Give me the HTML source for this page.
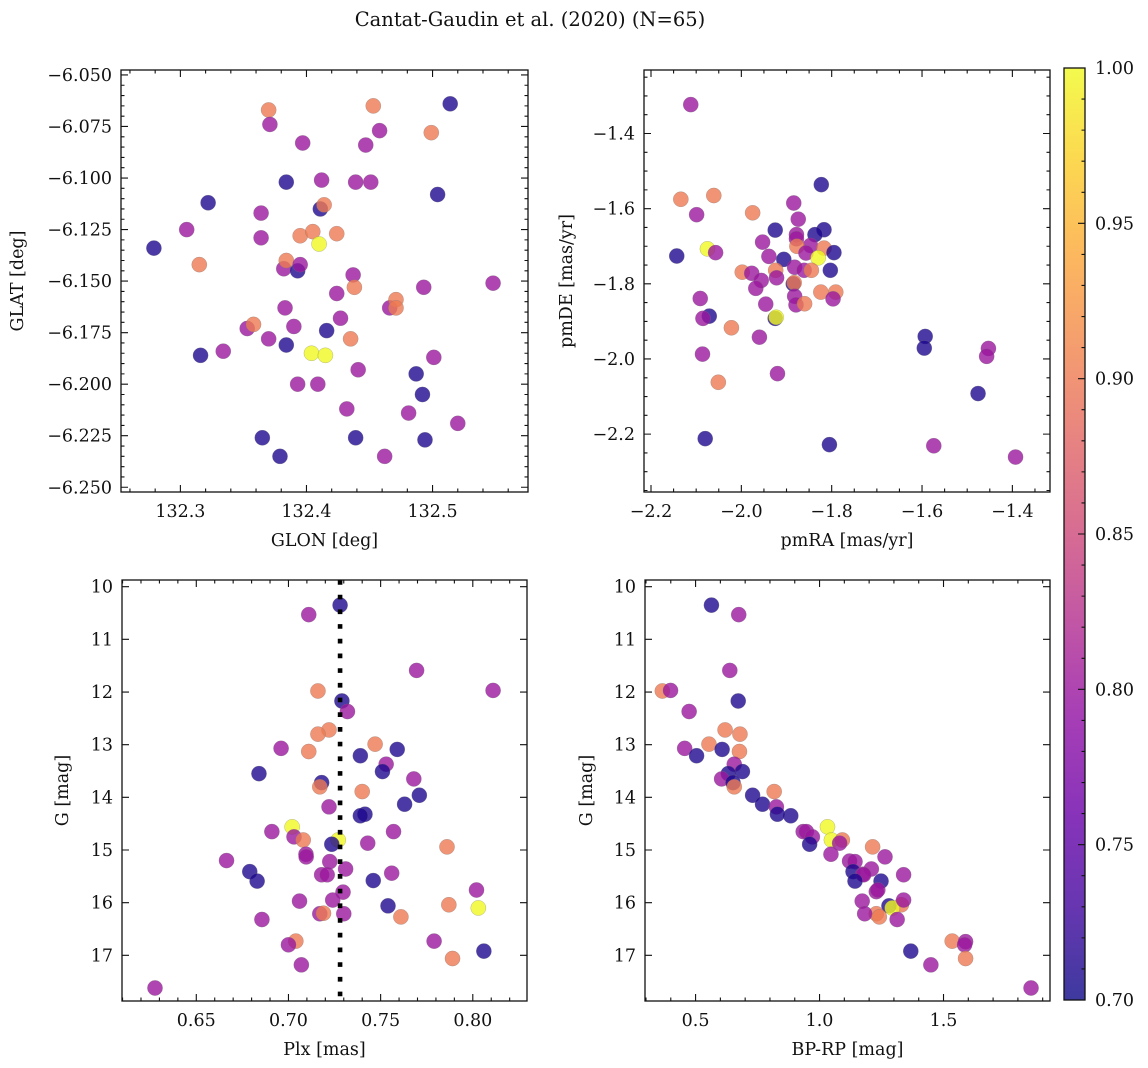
<!DOCTYPE html>
<html><head><meta charset="utf-8">
<style>
html,body{margin:0;padding:0;background:#fff;}
svg{display:block;font-family:"DejaVu Serif","Liberation Serif",serif;}
</style></head>
<body>
<svg id="fig" width="1148" height="1068" viewBox="0 0 1148 1068" xmlns="http://www.w3.org/2000/svg">
<rect x="0" y="0" width="1148" height="1068" fill="#fff"/>
<text x="530" y="26" font-size="19.5" text-anchor="middle" fill="#111">Cantat-Gaudin et al. (2020) (N=65)</text>
</svg>
<script>
// ---- Panel 1: GLON vs GLAT ----
const p1Lon=[132.279,132.322,132.305,132.315,132.316,132.334,132.353,132.358,132.364,132.364,132.365,132.370,132.371,132.370,132.379,132.382,132.383,132.384,132.384,132.384,132.390,132.393,132.393,132.395,132.395,132.397,132.405,132.404,132.409,132.410,132.411,132.412,132.414,132.415,132.416,132.424,132.424,132.427,132.432,132.435,132.437,132.438,132.439,132.439,132.441,132.447,132.451,132.453,132.458,132.462,132.466,132.471,132.471,132.481,132.487,132.492,132.494,132.493,132.499,132.501,132.504,132.514,132.520,132.548];
const p1Lat=[-6.134,-6.112,-6.125,-6.142,-6.186,-6.184,-6.173,-6.171,-6.117,-6.129,-6.226,-6.067,-6.074,-6.178,-6.235,-6.144,-6.163,-6.102,-6.181,-6.140,-6.172,-6.200,-6.145,-6.128,-6.142,-6.083,-6.126,-6.185,-6.200,-6.132,-6.115,-6.101,-6.113,-6.186,-6.174,-6.127,-6.156,-6.168,-6.212,-6.178,-6.147,-6.153,-6.226,-6.102,-6.193,-6.084,-6.102,-6.065,-6.077,-6.235,-6.163,-6.159,-6.163,-6.214,-6.195,-6.205,-6.227,-6.153,-6.078,-6.187,-6.108,-6.064,-6.219,-6.151];
const p1Col=[0.71,0.71,0.80,0.90,0.71,0.80,0.80,0.90,0.80,0.80,0.71,0.90,0.80,0.80,0.71,0.80,0.80,0.71,0.71,0.90,0.80,0.80,0.71,0.90,0.80,0.80,0.90,1.00,0.80,1.00,0.71,0.80,0.90,1.00,0.71,0.90,0.80,0.80,0.80,0.90,0.80,0.90,0.71,0.80,0.80,0.80,0.80,0.90,0.80,0.80,0.80,0.90,0.90,0.80,0.71,0.71,0.71,0.80,0.90,0.80,0.71,0.71,0.80,0.80];
const p1XTicks=[132.3,132.4,132.5];
const p1YTicks=[-6.050,-6.075,-6.100,-6.125,-6.150,-6.175,-6.200,-6.225,-6.250];

// ---- Panel 2: pmRA vs pmDE ----
const p2RA=[-2.112,-2.134,-2.061,-2.099,-1.975,-1.823,-1.884,-1.874,-2.143,-2.075,-2.057,-1.925,-1.817,-1.837,-1.878,-1.878,-1.953,-1.847,-1.877,-1.817,-1.857,-1.795,-1.830,-1.939,-1.906,-1.882,-1.861,-1.845,-1.803,-1.924,-1.998,-1.977,-1.956,-1.922,-1.885,-1.883,-1.968,-1.882,-1.824,-1.791,-1.797,-1.879,-1.860,-1.946,-2.091,-2.071,-2.085,-1.925,-1.923,-2.022,-1.960,-2.086,-2.051,-1.920,-1.593,-1.595,-1.453,-1.457,-1.476,-2.080,-1.805,-1.574,-1.393];
const p2DE=[-1.323,-1.575,-1.565,-1.616,-1.611,-1.536,-1.585,-1.628,-1.726,-1.707,-1.717,-1.657,-1.656,-1.669,-1.669,-1.680,-1.689,-1.698,-1.700,-1.705,-1.718,-1.717,-1.731,-1.727,-1.735,-1.756,-1.764,-1.764,-1.764,-1.764,-1.769,-1.772,-1.791,-1.784,-1.800,-1.797,-1.812,-1.833,-1.822,-1.822,-1.840,-1.856,-1.853,-1.854,-1.839,-1.886,-1.892,-1.892,-1.889,-1.917,-1.942,-1.987,-2.062,-2.039,-1.940,-1.971,-1.972,-1.993,-2.092,-2.212,-2.228,-2.231,-2.261];
const p2Col=[0.80,0.90,0.90,0.80,0.90,0.71,0.80,0.80,0.71,1.00,0.80,0.71,0.71,0.71,0.80,0.80,0.80,0.80,0.90,0.90,0.80,0.71,1.00,0.80,0.71,0.80,0.80,0.90,0.71,0.90,0.90,0.80,0.80,0.80,0.71,0.90,0.80,0.80,0.90,0.90,0.80,0.80,0.90,0.80,0.80,0.71,0.80,0.71,1.00,0.90,0.80,0.80,0.90,0.80,0.71,0.71,0.80,0.80,0.71,0.71,0.71,0.80,0.80];
const p2XTicks=[-2.2,-2.0,-1.8,-1.6,-1.4];
const p2YTicks=[-1.4,-1.6,-1.8,-2.0,-2.2];

// ---- Panel 3: Plx vs G ----
const p3Plx=[0.728,0.711,0.7695,0.811,0.716,0.729,0.732,0.722,0.716,0.747,0.696,0.759,0.711,0.739,0.753,0.751,0.684,0.768,0.718,0.717,0.740,0.771,0.763,0.722,0.7415,0.739,0.702,0.691,0.757,0.703,0.708,0.727,0.7235,0.743,0.786,0.7095,0.7096,0.6664,0.7224,0.731,0.679,0.718,0.721,0.756,0.683,0.746,0.7296,0.802,0.724,0.706,0.787,0.754,0.803,0.717,0.719,0.730,0.761,0.6856,0.704,0.700,0.779,0.806,0.789,0.707,0.6276];
const p3G=[10.35,10.53,11.59,11.97,11.98,12.17,12.37,12.72,12.80,12.99,13.07,13.09,13.13,13.21,13.37,13.51,13.55,13.65,13.72,13.80,13.89,13.96,14.13,14.18,14.32,14.35,14.56,14.65,14.65,14.75,14.81,14.81,14.89,14.87,14.94,15.08,15.13,15.20,15.22,15.36,15.41,15.47,15.47,15.44,15.59,15.58,15.80,15.76,15.95,15.97,16.04,16.06,16.10,16.21,16.20,16.21,16.27,16.32,16.73,16.80,16.73,16.92,17.06,17.18,17.62];
const p3Col=[0.71,0.80,0.80,0.80,0.90,0.71,0.80,0.90,0.90,0.90,0.80,0.71,0.90,0.71,0.80,0.71,0.71,0.80,0.71,0.90,0.90,0.71,0.71,0.80,0.71,0.71,1.00,0.80,0.80,0.80,0.90,1.00,0.71,0.80,0.90,0.80,0.80,0.80,0.80,0.80,0.71,0.80,0.80,0.80,0.71,0.71,0.80,0.80,0.80,0.80,0.90,0.71,1.00,0.80,0.90,0.80,0.90,0.80,0.90,0.80,0.80,0.71,0.90,0.80,0.80];
const p3XTicks=[0.65,0.70,0.75,0.80];
const p3YTicks=[10,11,12,13,14,15,16,17];
const p3Mean=[0.728];

// ---- Panel 4: BP-RP vs G ----
const p4BR=[0.564,0.674,0.638,0.366,0.399,0.672,0.474,0.619,0.679,0.554,0.456,0.607,0.677,0.504,0.656,0.689,0.632,0.605,0.651,0.656,0.817,0.730,0.770,0.826,0.884,0.830,1.032,0.934,0.947,0.971,1.048,1.092,0.960,1.081,1.214,1.046,1.121,1.143,1.209,1.135,1.175,1.178,1.264,1.339,1.143,1.248,1.229,1.235,1.172,1.330,1.280,1.293,1.229,1.182,1.339,1.241,1.313,1.535,1.589,1.585,1.368,1.589,1.449,1.853];
const p4G=[10.35,10.53,11.59,11.98,11.97,12.17,12.37,12.72,12.80,12.99,13.07,13.09,13.13,13.21,13.37,13.51,13.55,13.65,13.72,13.80,13.89,13.96,14.13,14.18,14.35,14.32,14.56,14.65,14.65,14.75,14.81,14.81,14.89,14.87,14.94,15.08,15.21,15.22,15.36,15.41,15.46,15.47,15.13,15.47,15.59,15.59,15.79,15.76,15.97,16.04,16.06,16.10,16.21,16.21,15.95,16.27,16.32,16.73,16.74,16.80,16.92,17.06,17.18,17.62];
const p4Col=[0.71,0.80,0.80,0.90,0.80,0.71,0.80,0.90,0.90,0.90,0.80,0.71,0.90,0.71,0.80,0.71,0.71,0.80,0.71,0.90,0.90,0.71,0.71,0.80,0.71,0.71,1.00,0.80,0.80,0.80,1.00,0.90,0.71,0.80,0.90,0.80,0.80,0.80,0.80,0.71,0.80,0.80,0.80,0.80,0.71,0.71,0.80,0.80,0.80,0.90,0.71,1.00,0.90,0.80,0.80,0.90,0.80,0.90,0.80,0.80,0.71,0.90,0.80,0.80];
const p4XTicks=[0.5,1.0,1.5];
const p4YTicks=[10,11,12,13,14,15,16,17];

// ---- Colorbar ----
const cbTicks=[0.70,0.75,0.80,0.85,0.90,0.95,1.00];

const NS="http://www.w3.org/2000/svg";
const svg=document.getElementById('fig');
const FS=17.5;
function mk(tag,attrs,parent){const e=document.createElementNS(NS,tag);for(const k in attrs)e.setAttribute(k,attrs[k]);(parent||svg).appendChild(e);return e;}
const stops=[[0,13,8,135],[0.1,65,4,157],[0.2,106,0,168],[0.3,143,13,164],[0.4,177,42,144],[0.5,204,71,120],[0.6,225,100,98],[0.7,242,132,75],[0.8,252,166,54],[0.9,252,206,37],[1,240,249,33]];
function plasma(t){t=Math.max(0,Math.min(1,t));for(let i=1;i<stops.length;i++){if(t<=stops[i][0]){const a=stops[i-1],b=stops[i],f=(t-a[0])/(b[0]-a[0]);return 'rgb('+[1,2,3].map(j=>Math.round(a[j]+(b[j]-a[j])*f)).join(',')+')';}}return 'rgb(240,249,33)';}
function cnorm(v){return (v-0.7)/0.3;}

function panel(cfg){
  const g=mk('g',{});
  
  
  const sx=v=>cfg.x0+(v-cfg.xmin)/(cfg.xmax-cfg.xmin)*(cfg.x1-cfg.x0);
  const sy=v=>cfg.y0+(v-cfg.ymax)/(cfg.ymin-cfg.ymax)*(cfg.y1-cfg.y0);
  const pg=mk('g',{},g);
  
  
  for(let i=0;i<Math.min(cfg.xs.length,cfg.ys.length);i++){
    const c=mk('circle',{cx:sx(cfg.xs[i]),cy:sy(cfg.ys[i]),r:7.6,fill:plasma(cnorm(cfg.cs[i])),'fill-opacity':0.8,stroke:'#777','stroke-opacity':0.5,'stroke-width':0.5},pg);
    
    
  }
  if(cfg.extra)cfg.extra(g,sx,sy);
  const fr=mk('rect',{x:cfg.x0,y:cfg.y0,width:cfg.x1-cfg.x0,height:cfg.y1-cfg.y0,fill:'none',stroke:'#111','stroke-width':1.3},g);
  
  
  let d='';
  for(let v=Math.ceil(cfg.xmin/cfg.xminor-1e-6)*cfg.xminor;v<=cfg.xmax+1e-9;v+=cfg.xminor){const x=sx(v);d+=`M${x},${cfg.y1}v-3.5M${x},${cfg.y0}v3.5`;}
  for(let v=Math.ceil(cfg.ymin/cfg.yminor-1e-6)*cfg.yminor;v<=cfg.ymax+1e-9;v+=cfg.yminor){const y=sy(v);d+=`M${cfg.x0},${y}h3.5M${cfg.x1},${y}h-3.5`;}
  for(const v of cfg.xt){const x=sx(v);d+=`M${x},${cfg.y1}v-7M${x},${cfg.y0}v7`;}
  for(const v of cfg.yt){const y=sy(v);d+=`M${cfg.x0},${y}h7M${cfg.x1},${y}h-7`;}
  const tk=mk('path',{d:d,stroke:'#111','stroke-width':1.1,fill:'none'},g);
  
  
  for(const v of cfg.xt){const t=mk('text',{x:sx(v),y:cfg.y1+25,'font-size':FS,'text-anchor':'middle',fill:'#111'},g);t.textContent=cfg.fx(v).replace('-','\u2212');
    
    }
  for(const v of cfg.yt){const t=mk('text',{x:cfg.x0-9,y:sy(v)+6,'font-size':FS,'text-anchor':'end',fill:'#111'},g);t.textContent=cfg.fy(v).replace('-','\u2212');
    
    }
  const xl=mk('text',{x:(cfg.x0+cfg.x1)/2,y:cfg.y1+54,'font-size':FS,'text-anchor':'middle',fill:'#111'},g);xl.textContent=cfg.xlabel;
  
  
  const yl=mk('text',{x:0,y:0,'font-size':FS,'text-anchor':'middle',fill:'#111',transform:`translate(${cfg.ylx},${(cfg.y0+cfg.y1)/2}) rotate(-90)`},g);yl.textContent=cfg.ylabel;
  
  
}
panel({name:'glon-glat-panel',x0:121,x1:528,y0:70,y1:492,xmin:132.2529,xmax:132.5757,ymin:-6.2523,ymax:-6.0476,xs:p1Lon,ys:p1Lat,cs:p1Col,xt:p1XTicks,yt:p1YTicks,xminor:0.02,yminor:0.005,fx:v=>v.toFixed(1),fy:v=>v.toFixed(3),xlabel:'GLON [deg]',ylabel:'GLAT [deg]',ylx:23});
panel({name:'pm-panel',x0:644,x1:1050,y0:70,y1:492,xmin:-2.2155,xmax:-1.3167,ymin:-2.354,ymax:-1.231,xs:p2RA,ys:p2DE,cs:p2Col,xt:p2XTicks,yt:p2YTicks,xminor:0.05,yminor:0.05,fx:v=>v.toFixed(1),fy:v=>v.toFixed(1),xlabel:'pmRA [mas/yr]',ylabel:'pmDE [mas/yr]',ylx:572});
panel({name:'plx-g-panel',x0:122,x1:527,y0:580,y1:1001,xmin:0.6097,xmax:0.8294,ymin:17.867,ymax:9.873,xs:p3Plx,ys:p3G,cs:p3Col,xt:p3XTicks,yt:p3YTicks,xminor:0.01,yminor:0.2,fx:v=>v.toFixed(2),fy:v=>String(v),xlabel:'Plx [mas]',ylabel:'G [mag]',ylx:68,
  extra:(g,sx,sy)=>{for(const m of p3Mean){const l=mk('line',{x1:sx(m),x2:sx(m),y1:580,y2:1001,stroke:'#000','stroke-width':4.6,'stroke-dasharray':'4.7 10'},g);
    
    }}});
panel({name:'cmd-panel',x0:645,x1:1050,y0:580,y1:1001,xmin:0.296,xmax:1.9295,ymin:17.867,ymax:9.873,xs:p4BR,ys:p4G,cs:p4Col,xt:p4XTicks,yt:p4YTicks,xminor:0.1,yminor:0.2,fx:v=>v.toFixed(1),fy:v=>String(v),xlabel:'BP-RP [mag]',ylabel:'G [mag]',ylx:592});

const cb=mk('g',{});


const defs=mk('defs',{},cb);
const lg=mk('linearGradient',{id:'cbg',x1:0,y1:1,x2:0,y2:0},defs);
for(let i=0;i<=20;i++){mk('stop',{offset:i/20,'stop-color':plasma(i/20)},lg);}
const cbx0=1064,cbx1=1085,cby0=68,cby1=1000;
const cr=mk('rect',{x:cbx0,y:cby0,width:cbx1-cbx0,height:cby1-cby0,fill:'url(#cbg)','fill-opacity':0.8,stroke:'#111','stroke-width':1.3},cb);


const cy=v=>cby1-(v-0.7)/0.3*(cby1-cby0);
let cd='';
for(let v=0.70;v<=1.0001;v+=0.01){cd+=`M${cbx1},${cy(v)}h-3.5`;}
for(const v of cbTicks){cd+=`M${cbx1},${cy(v)}h-7`;}
mk('path',{d:cd,stroke:'#111','stroke-width':1.1},cb);
for(const v of cbTicks){const t=mk('text',{x:cbx1+10,y:cy(v)+6,'font-size':FS,fill:'#111'},cb);t.textContent=v.toFixed(2);
  
  }
</script>
</body></html>
